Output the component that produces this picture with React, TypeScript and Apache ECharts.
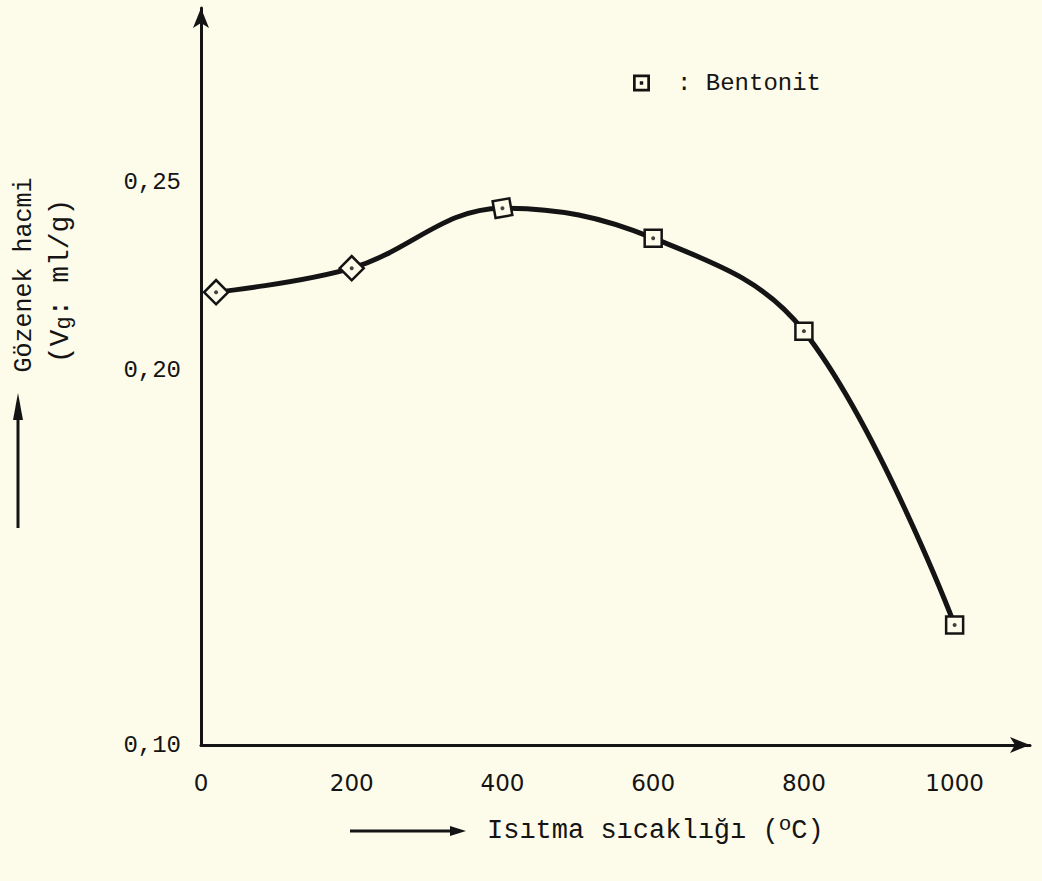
import React, { useEffect, useRef } from 'react';
import * as echarts from 'echarts';

// ---- data ----
const temperatures = [20, 200, 400, 600, 800, 1000];
const poreVolume = [0.2208, 0.2272, 0.2432, 0.2352, 0.2104, 0.132];
const markerRotation = [45, 45, 10, 0, 0, 0];
const xTickValues = [0, 200, 400, 600, 800, 1000];
const yTickValues = [0.1, 0.2, 0.25];
const seriesName = 'Bentonit';
const legendText = ': Bentonit';
const yTitle = 'Gözenek hacmi';
const xTitle = 'Isıtma sıcaklığı';

const BG = '#fdfbea';
const INK = '#141414';
const MONO = '"Liberation Mono", "DejaVu Sans Mono", monospace';

export default function App() {
  const ref = useRef<HTMLDivElement>(null);

  useEffect(() => {
    document.body.style.margin = '0';
    document.body.style.background = BG;
    if (!ref.current) return;
    const chart = echarts.init(ref.current, undefined, { renderer: 'svg' });

    const points = temperatures.map((t, i) => ({
      value: [t, poreVolume[i]],
      symbolRotate: markerRotation[i],
    }));
    const dots = temperatures.map((t, i) => [t, poreVolume[i]]);

    chart.setOption({
      animation: false,
      backgroundColor: BG,
      grid: { left: 201, right: 12, top: 8, bottom: 136, containLabel: false },
      xAxis: {
        type: 'value',
        min: 0,
        max: 1100,
        splitLine: { show: false },
        axisTick: { show: false },
        axisLine: {
          show: true,
          symbol: ['none', 'arrow'],
          symbolSize: [12, 20],
          lineStyle: { color: INK, width: 3 },
        },
        axisLabel: {
          customValues: xTickValues,
          margin: 26,
          color: INK,
          fontSize: 23,
          fontFamily: '"DejaVu Sans", sans-serif',
          formatter: (v: number) => String(v),
        },
      },
      yAxis: {
        type: 'value',
        min: 0.1,
        max: 0.2966,
        splitLine: { show: false },
        axisTick: { show: false },
        axisLine: {
          show: true,
          symbol: ['none', 'arrow'],
          symbolSize: [12, 20],
          lineStyle: { color: INK, width: 3 },
        },
        axisLabel: {
          customValues: yTickValues,
          margin: 20,
          color: INK,
          fontSize: 24,
          fontFamily: MONO,
          formatter: (v: number) => v.toFixed(2).replace('.', ','),
        },
      },
      legend: {
        data: [seriesName],
        left: 628,
        top: 66,
        itemWidth: 17,
        itemHeight: 17,
        icon: 'path://M0,0H10V10H0Z M1.6,1.6V8.4H8.4V1.6Z M4,4H6V6H4Z',
        itemStyle: { color: INK, borderWidth: 0 },
        formatter: () => legendText,
        textStyle: { color: INK, fontSize: 24, fontFamily: MONO, padding: [0, 0, 0, 22] },
      },
      series: [
        {
          name: seriesName,
          type: 'line',
          data: points,
          smooth: 0.38,
          symbol: 'rect',
          symbolSize: 17,
          lineStyle: { color: INK, width: 5 },
          itemStyle: { color: BG, borderColor: INK, borderWidth: 2.5 },
          z: 3,
        },
        {
          name: 'dots',
          type: 'scatter',
          data: dots,
          symbol: 'circle',
          symbolSize: 4,
          itemStyle: { color: INK },
          z: 5,
          silent: true,
        },
      ],
      graphic: [
        {
          type: 'text',
          x: 24,
          y: 275,
          rotation: Math.PI / 2,
          style: {
            text: yTitle,
            fill: INK,
            font: `25px ${MONO}`,
            align: 'center',
            verticalAlign: 'middle',
          },
        },
        {
          type: 'text',
          x: 60,
          y: 281,
          rotation: Math.PI / 2,
          style: {
            text: '(V{sub|g}: ml/g)',
            fill: INK,
            font: `28px ${MONO}`,
            align: 'center',
            verticalAlign: 'middle',
            rich: {
              sub: { fontSize: 22, fontFamily: MONO, fill: INK, padding: [8, 0, 0, 0] },
            },
          },
        },
        {
          type: 'line',
          shape: { x1: 18, y1: 528, x2: 18, y2: 410 },
          style: { stroke: INK, lineWidth: 3 },
        },
        {
          type: 'polygon',
          shape: { points: [[13, 420], [18, 393], [23, 420]] },
          style: { fill: INK },
        },
        {
          type: 'line',
          shape: { x1: 350, y1: 831, x2: 455, y2: 831 },
          style: { stroke: INK, lineWidth: 3 },
        },
        {
          type: 'polygon',
          shape: { points: [[450, 826], [466, 831], [450, 836]] },
          style: { fill: INK },
        },
        {
          type: 'text',
          x: 487,
          y: 831,
          style: {
            text: xTitle + ' ({sup|o}C)',
            fill: INK,
            font: `27px ${MONO}`,
            align: 'left',
            verticalAlign: 'middle',
            rich: {
              sup: { fontSize: 21, fontFamily: MONO, fill: INK, padding: [0, 0, 14, 0] },
            },
          },
        },
      ],
    });

    return () => chart.dispose();
  }, []);

  return <div ref={ref} style={{ width: 1042, height: 881, background: BG }} />;
}
